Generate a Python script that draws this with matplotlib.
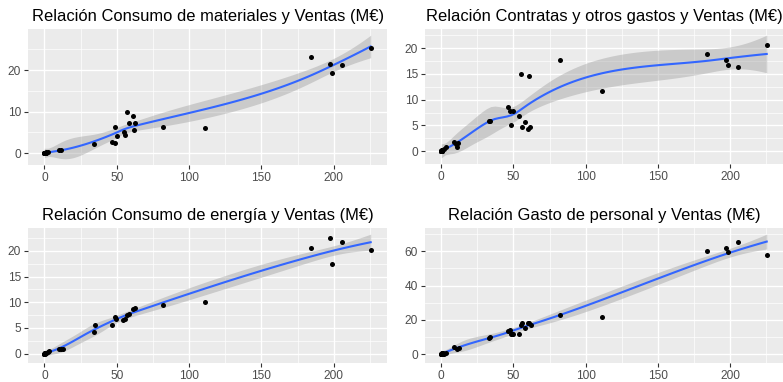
import numpy as np
import matplotlib
matplotlib.use("Agg")
import matplotlib.pyplot as plt
from matplotlib.ticker import MultipleLocator

plt.rcParams['font.family'] = ['Liberation Sans', 'DejaVu Sans']

# Ventas (M€) frente a cada partida de gasto (M€); muchas empresas pequeñas
# quedan superpuestas cerca del origen
mat_x = [0.0, 0.0, 0.0, 0.2, 0.3, 0.5, 0.6, 0.8, 1.0, 1.2, 1.5, 2.5,
         10.3, 11.5, 34.5, 47.1, 48.7, 48.9, 50.1, 55.2, 55.9, 56.8,
         58.6, 61.4, 62.1, 62.5, 82.0, 111.3, 184.4, 197.5, 198.6, 205.5, 225.5]
mat_y = [0.0, 0.0, 0.0, 0.0, 0.05, 0.05, 0.1, 0.1, 0.1, 0.15, 0.2, 0.4,
         0.8, 0.9, 2.2, 2.7, 2.5, 6.3, 4.2, 5.1, 4.5, 10.0,
         7.2, 9.0, 5.5, 7.4, 6.3, 6.0, 23.1, 21.4, 19.3, 21.3, 25.3]

con_x = [0.0, 0.0, 0.0, 0.0, 0.1, 0.1, 0.2, 0.3, 0.4, 0.5, 0.6, 0.7, 0.8, 2.0, 3.0,
         8.7, 10.3, 11.0, 11.7, 32.9, 34.0, 46.2, 47.8, 48.0, 49.4,
         54.0, 55.0, 56.1, 57.9, 60.2, 61.1, 61.8, 82.0, 111.3, 184.4, 197.5, 198.6,
         205.5, 225.5]
con_y = [0.1, 0.0, 0.0, 0.0, 0.05, 0.05, 0.05, 0.1, 0.1, 0.15, 0.15, 0.2, 0.2, 0.5, 0.8,
         1.7, 1.3, 0.8, 1.5, 5.8, 5.8, 8.6, 7.8, 5.0, 7.8,
         6.8, 15.0, 4.7, 5.6, 4.4, 14.5, 4.7, 17.6, 11.7, 18.9, 17.6, 16.7,
         16.4, 20.6]

ene_x = [0.0, 0.0, 0.0, 0.2, 0.3, 0.4, 0.5, 0.6, 0.8, 1.0, 1.2, 2.3, 3.5,
         10.3, 11.5, 12.6, 34.0, 35.2, 47.0, 48.7, 49.4, 54.7,
         55.6, 57.0, 58.6, 61.6, 62.5, 82.0, 111.3, 184.4, 197.5, 198.6, 205.5, 225.5]
ene_y = [0.0, 0.0, 0.0, 0.02, 0.03, 0.04, 0.05, 0.06, 0.08, 0.1, 0.15, 0.4, 0.45,
         1.0, 0.9, 0.95, 4.2, 5.5, 5.5, 7.2, 6.8, 6.5,
         6.8, 7.6, 7.7, 8.7, 8.9, 9.4, 10.1, 20.6, 22.5, 17.5, 21.7, 20.1]

per_x = [0.0, 0.0, 0.0, 0.2, 0.3, 0.4, 0.5, 0.6, 0.7, 0.8, 1.0, 2.0, 3.0,
         8.7, 11.0, 12.0, 33.0, 34.0, 46.0, 47.4, 48.0, 49.0, 49.5,
         54.0, 55.0, 56.0, 58.0, 60.0, 61.0, 62.0, 82.0, 111.3, 184.4, 197.5, 198.6,
         205.5, 225.5]
per_y = [0.4, 0.3, 0.3, 0.3, 0.35, 0.35, 0.4, 0.4, 0.45, 0.5, 0.6, 0.4, 0.6,
         4.3, 3.3, 3.5, 9.7, 10.1, 13.6, 14.4, 12.0, 12.0, 11.6,
         12.0, 17.1, 18.3, 15.5, 18.0, 18.0, 17.0, 23.0, 21.6, 60.2, 62.0, 59.4,
         65.4, 57.7]

titles = ["Relación Consumo de materiales y Ventas (M€)",
          "Relación Contratas y otros gastos y Ventas (M€)",
          "Relación Consumo de energía y Ventas (M€)",
          "Relación Gasto de personal y Ventas (M€)"]


def local_fit(x, x0, span=0.75):
    # value and slope of the tricube-weighted local quadratic at x0
    n = len(x)
    q = int(np.floor(n * span))
    d = np.abs(x - x0)
    h = np.sort(d)[q - 1]
    u = np.clip(d / h, 0, 1)
    w = (1 - u ** 3) ** 3
    X = np.column_stack([np.ones(n), x - x0, (x - x0) ** 2])
    XtW = X.T * w
    B = np.linalg.solve(XtW @ X, XtW)
    return B[0], B[1]


def kd_vertices(x, span=0.75, cell=0.2):
    # cell boundaries of the kd tree used for interpolating the loess surface
    xs = np.sort(x)
    n = len(xs)
    fc = int(np.floor(n * span * cell))
    r = xs[-1] - xs[0]
    lo, hi = xs[0] - 0.005 * r, xs[-1] + 0.005 * r
    verts = {lo, hi}

    def split(l, u, a, b):
        if u - l + 1 <= fc:
            return
        m = (l + u) // 2
        while m < u and xs[m] == xs[m + 1]:
            m += 1
        if m >= u:
            return
        v = (xs[m] + xs[m + 1]) / 2
        if v <= a or v >= b:
            return
        verts.add(v)
        split(l, m, a, v)
        split(m + 1, u, v, b)

    split(0, n - 1, lo, hi)
    return np.array(sorted(verts))


def surface_rows(pts, verts, vals, slopes):
    # cubic hermite between vertices, kept linear in y
    rows = []
    for p in pts:
        i = np.clip(np.searchsorted(verts, p) - 1, 0, len(verts) - 2)
        x0, x1 = verts[i], verts[i + 1]
        h = x1 - x0
        t = (p - x0) / h
        rows.append((1 - t) ** 2 * (1 + 2 * t) * vals[i] + t ** 2 * (3 - 2 * t) * vals[i + 1]
                    + t * (1 - t) ** 2 * h * slopes[i] - t ** 2 * (1 - t) * h * slopes[i + 1])
    return np.array(rows)


def loess(x, y, n_out=80):
    x = np.asarray(x, float)
    y = np.asarray(y, float)
    verts = kd_vertices(x)
    fits = [local_fit(x, v) for v in verts]
    vals = [f[0] for f in fits]
    slopes = [f[1] for f in fits]
    L = surface_rows(x, verts, vals, slopes)
    resid = y - L @ y
    M = np.eye(len(x)) - L
    MtM = M.T @ M
    d1 = np.trace(MtM)
    d2 = np.trace(MtM @ MtM)
    sigma = np.sqrt(np.sum(resid ** 2) / d1)
    df = d1 ** 2 / d2
    z = 1.959964
    tq = z + (z ** 3 + z) / (4 * df) + (5 * z ** 5 + 16 * z ** 3 + 3 * z) / (96 * df ** 2)
    xs = np.linspace(x.min(), x.max(), n_out)
    rows = surface_rows(xs, verts, vals, slopes)
    fit = rows @ y
    se = sigma * np.sqrt(np.sum(rows ** 2, axis=1))
    return xs, fit, fit - tq * se, fit + tq * se


def draw(ax, x, y, title, ystep):
    xs, fit, lo, hi = loess(x, y)
    ax.set_facecolor('#EBEBEB')
    ax.fill_between(xs, lo, hi, color='#999999', alpha=0.4, lw=0, zorder=2)
    ax.plot(xs, fit, color='#3366FF', lw=1.5, zorder=3)
    ax.scatter(x, y, s=13, color='black', lw=0, zorder=4)
    xr = max(x) - min(x)
    ax.set_xlim(min(x) - 0.05 * xr, max(x) + 0.05 * xr)
    ymin = min(min(y), lo.min())
    ymax = max(max(y), hi.max())
    yr = ymax - ymin
    ax.set_ylim(ymin - 0.05 * yr, ymax + 0.05 * yr)
    ax.xaxis.set_major_locator(MultipleLocator(50))
    ax.xaxis.set_minor_locator(MultipleLocator(25))
    ax.yaxis.set_major_locator(MultipleLocator(ystep))
    ax.yaxis.set_minor_locator(MultipleLocator(ystep / 2))
    ax.grid(which='major', color='white', lw=1.0, zorder=0)
    ax.grid(which='minor', color='white', lw=0.5, zorder=0)
    ax.set_axisbelow(True)
    for s in ax.spines.values():
        s.set_visible(False)
    ax.tick_params(which='major', length=3, width=0.8, color='#333333',
                   labelsize=8.6, labelcolor='#4D4D4D', pad=2)
    ax.tick_params(which='minor', length=0)
    ax.set_title(title, fontsize=11.9, pad=6)


W, H = 783, 382
fig = plt.figure(figsize=(W / 100, H / 100), dpi=100)

# panel boxes in pixels: left, top, right, bottom
boxes = [(28, 29, 387, 165), (425, 29, 783, 164),
         (28, 228, 387, 363), (425, 228, 783, 363)]
data = [(mat_x, mat_y, 10), (con_x, con_y, 5), (ene_x, ene_y, 5), (per_x, per_y, 20)]

for (l, t, r, b), (x, y, step), title in zip(boxes, data, titles):
    ax = fig.add_axes([l / W, 1 - b / H, (r - l) / W, (b - t) / H])
    draw(ax, x, y, title, step)

fig.savefig("out.png", dpi=100)
